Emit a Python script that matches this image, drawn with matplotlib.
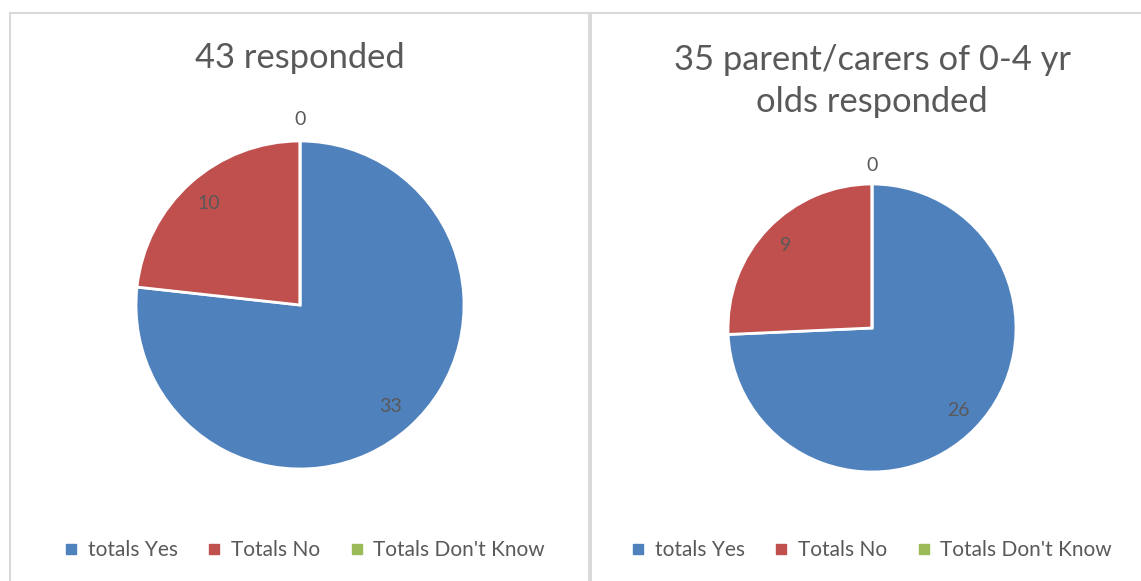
import matplotlib
matplotlib.use("Agg")
import matplotlib.pyplot as plt
from matplotlib.patches import Rectangle
from matplotlib.lines import Line2D

# data
categories = ["totals Yes", "Totals No", "Totals Don't Know"]
left_values = [33, 10, 0]
right_values = [26, 9, 0]
left_title = "43 responded"
right_title = "35 parent/carers of 0-4 yr\nolds responded"
colors = ["#4F81BD", "#C0504D", "#9BBB59"]

W, H = 1141, 581
plt.rcParams["font.family"] = ["Lato", "DejaVu Sans"]
TXT = "#595959"

fig = plt.figure(figsize=(W / 100, H / 100), dpi=100)
fig.patch.set_facecolor("white")


def fx(px):
    return px / W


def fy(py):
    return 1 - py / H


# panel borders
for x0, x1 in [(10, 589), (591, 1160)]:
    fig.patches.append(Rectangle((fx(x0), fy(600)), fx(x1 - x0), (600 - 13) / H,
                                 transform=fig.transFigure, fill=False,
                                 edgecolor="#D9D9D9", linewidth=1.5))


def draw_pie(values, cx, cy, r, title, title_y, legend_x):
    ax = fig.add_axes([fx(cx - r), fy(cy + r), fx(2 * r), 2 * r / H])
    wedges, _, autotexts = ax.pie(values, colors=colors, startangle=90, counterclock=False,
                                  autopct=lambda p: "", pctdistance=0.83,
                                  wedgeprops=dict(edgecolor="white", linewidth=2),
                                  radius=1.0)
    for w in wedges:
        w.set_clip_on(False)
    for v, t in zip(values, autotexts):
        t.set_text(str(v))
        t.set_fontsize(14)
        t.set_color(TXT)
        if v == 0:
            t.set_position((0, 1.13))
    ax.set_xlim(-1, 1)
    ax.set_ylim(-1, 1)
    ax.axis("off")
    fig.text(fx(cx), fy(title_y), title, ha="center", va="center", fontsize=24.8,
             color=TXT, linespacing=1.35)
    handles = [Line2D([], [], marker="s", linestyle="none", markersize=7,
                      markerfacecolor=c, markeredgecolor=c) for c in colors]
    fig.legend(handles, categories, loc="center", bbox_to_anchor=(fx(legend_x), fy(550)),
               ncol=3, frameon=False, fontsize=15, handlelength=0.6, handletextpad=0.5,
               columnspacing=1.45, labelcolor=TXT)


draw_pie(left_values, 300, 305, 164, left_title, 58, 305)
draw_pie(right_values, 872, 328, 144, right_title, 81, 872)

fig.savefig("out.png", dpi=100, facecolor="white")
